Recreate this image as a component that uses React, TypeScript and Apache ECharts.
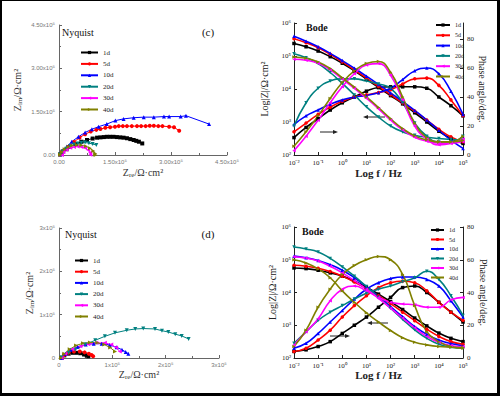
import React, { useEffect, useRef } from 'react';
import * as echarts from 'echarts';

const NAMES = ['1d', '5d', '10d', '20d', '30d', '40d'];
const COLORS = ['#000000', '#ff0000', '#0000ff', '#008080', '#ff00ff', '#808000'];
const SYMBOLS = ['rect', 'circle', 'triangle', 'triangle', 'triangle', 'triangle'];
const SYMBOL_ROTATE = [0, 0, 0, 180, 90, -90];

// Nyquist (c): [Zre, -Zim] in 1e5 Ω·cm²
const NYQ_C_1D = [[0.03, 0.02], [0.1, 0.12], [0.2, 0.2], [0.3, 0.29], [0.45, 0.38], [0.6, 0.46], [0.75, 0.52], [0.9, 0.57], [1.02, 0.6], [1.11, 0.61], [1.2, 0.62], [1.28, 0.63], [1.37, 0.63], [1.46, 0.63], [1.55, 0.62], [1.64, 0.61], [1.73, 0.6], [1.82, 0.58], [1.91, 0.55], [2.0, 0.52], [2.07, 0.49], [2.14, 0.46], [2.23, 0.4]];
const NYQ_C_5D = [[0.03, 0.02], [0.12, 0.15], [0.25, 0.28], [0.4, 0.45], [0.55, 0.6], [0.7, 0.72], [0.85, 0.81], [1.0, 0.87], [1.11, 0.9], [1.24, 0.94], [1.37, 0.96], [1.5, 0.98], [1.6, 1.0], [1.71, 1.0], [1.82, 1.0], [1.95, 1.0], [2.09, 1.0], [2.2, 1.0], [2.32, 1.0], [2.43, 1.01], [2.54, 1.01], [2.66, 1.0], [2.77, 1.0], [2.95, 0.98], [3.08, 0.96], [3.22, 0.84]];
const NYQ_C_10D = [[0.03, 0.03], [0.1, 0.14], [0.21, 0.29], [0.34, 0.46], [0.52, 0.63], [0.7, 0.78], [0.88, 0.89], [1.06, 0.98], [1.28, 1.07], [1.51, 1.19], [1.73, 1.25], [2.0, 1.29], [2.27, 1.31], [2.54, 1.31], [2.81, 1.33], [2.95, 1.33], [3.26, 1.33], [3.4, 1.36], [4.02, 1.07]];
const NYQ_C_20D = [[0.03, 0.02], [0.1, 0.12], [0.2, 0.22], [0.3, 0.3], [0.4, 0.36], [0.5, 0.4], [0.6, 0.42], [0.7, 0.43], [0.8, 0.41], [0.9, 0.38], [1.0, 0.35]];
const NYQ_C_30D = [[0.08, 0.0], [0.12, 0.1], [0.2, 0.18], [0.3, 0.25], [0.4, 0.28], [0.5, 0.29], [0.6, 0.28], [0.7, 0.24], [0.78, 0.17], [0.83, 0.08], [0.84, 0.01]];
const NYQ_C_40D = [[0.03, 0.01], [0.08, 0.1], [0.15, 0.2], [0.25, 0.28], [0.35, 0.33], [0.48, 0.35], [0.6, 0.34], [0.72, 0.3], [0.83, 0.23], [0.92, 0.14], [0.97, 0.05], [0.98, 0.0]];

// Nyquist (d): [Zre, -Zim] in 1e5 Ω·cm²
const NYQ_D_1D = [[0.05, 0.0], [0.1, 0.06], [0.18, 0.1], [0.26, 0.12], [0.33, 0.12], [0.4, 0.11], [0.47, 0.08], [0.52, 0.06], [0.55, 0.04]];
const NYQ_D_5D = [[0.05, 0.0], [0.1, 0.07], [0.18, 0.12], [0.28, 0.15], [0.39, 0.15], [0.48, 0.13], [0.56, 0.1], [0.61, 0.07], [0.64, 0.04]];
const NYQ_D_10D = [[0.05, 0.0], [0.12, 0.1], [0.22, 0.19], [0.35, 0.26], [0.5, 0.31], [0.65, 0.33], [0.8, 0.33], [0.95, 0.3], [1.08, 0.25], [1.18, 0.19], [1.25, 0.14], [1.3, 0.1]];
const NYQ_D_20D = [[0.05, 0.02], [0.18, 0.12], [0.3, 0.19], [0.49, 0.31], [0.68, 0.41], [0.86, 0.5], [1.05, 0.58], [1.27, 0.64], [1.43, 0.67], [1.58, 0.68], [1.8, 0.67], [1.93, 0.63], [2.05, 0.6], [2.18, 0.55], [2.3, 0.51], [2.43, 0.44]];
const NYQ_D_30D = [[0.05, 0.0], [0.12, 0.1], [0.25, 0.2], [0.4, 0.27], [0.55, 0.32], [0.7, 0.35], [0.86, 0.35], [0.98, 0.31], [1.07, 0.24], [1.14, 0.15]];
const NYQ_D_40D = [[0.04, 0.0], [0.1, 0.1], [0.2, 0.2], [0.32, 0.29], [0.45, 0.34], [0.58, 0.36], [0.72, 0.35], [0.85, 0.31], [0.96, 0.24], [1.05, 0.15]];

// Bode frequencies (log10 f / Hz)
const LOG_F = [-2, -1.5, -1, -0.5, 0, 0.5, 1, 1.5, 2, 2.5, 3, 3.5, 4, 4.5, 5];

// Bode (top): log10 |Z|
const BODE_C_Z_1D = [5.38, 5.28, 5.15, 4.98, 4.78, 4.55, 4.3, 4.05, 3.8, 3.55, 3.28, 3.0, 2.72, 2.5, 2.35];
const BODE_C_Z_5D = [5.52, 5.4, 5.25, 5.05, 4.82, 4.58, 4.33, 4.08, 3.83, 3.58, 3.33, 3.06, 2.78, 2.55, 2.4];
const BODE_C_Z_10D = [5.6, 5.45, 5.28, 5.08, 4.86, 4.63, 4.39, 4.14, 3.88, 3.62, 3.35, 3.06, 2.75, 2.45, 2.2];
const BODE_C_Z_20D = [5.07, 4.95, 4.77, 4.5, 4.17, 3.82, 3.46, 3.15, 2.88, 2.7, 2.6, 2.54, 2.5, 2.47, 2.45];
const BODE_C_Z_30D = [4.9, 4.87, 4.78, 4.58, 4.3, 4.02, 3.72, 3.4, 3.06, 2.76, 2.54, 2.42, 2.36, 2.36, 2.4];
const BODE_C_Z_40D = [4.97, 4.93, 4.82, 4.62, 4.34, 4.06, 3.76, 3.44, 3.1, 2.8, 2.58, 2.46, 2.4, 2.4, 2.44];
// Bode (top): phase angle / deg
const BODE_C_P_1D = [12, 19, 25, 31, 36, 40, 44, 46.5, 47, 47, 47, 46, 40, 34, 27];
const BODE_C_P_5D = [16, 22, 28, 33, 37, 40, 41.5, 43, 45, 49, 52.5, 53, 48, 38, 27];
const BODE_C_P_10D = [21, 27, 31, 35, 38, 40, 41, 43, 46, 52, 58, 60, 56, 44, 28];
const BODE_C_P_20D = [20, 36, 46, 51, 52.5, 52.5, 51, 49, 46, 36, 22, 13, 9, 9, 13];
const BODE_C_P_30D = [3, 13, 24, 36, 47, 56, 62, 63, 55, 38, 20, 11, 7, 8, 11];
const BODE_C_P_40D = [6, 16, 27, 39, 50, 58, 63, 64.5, 57, 40, 22, 12, 9, 9, 13];

// Bode (bottom): log10 |Z|
const BODE_D_Z_1D = [4.75, 4.73, 4.68, 4.6, 4.5, 4.35, 4.16, 3.95, 3.72, 3.48, 3.22, 2.98, 2.76, 2.6, 2.5];
const BODE_D_Z_5D = [4.83, 4.8, 4.74, 4.64, 4.5, 4.32, 4.12, 3.9, 3.66, 3.4, 3.14, 2.88, 2.66, 2.5, 2.42];
const BODE_D_Z_10D = [5.11, 5.06, 4.98, 4.85, 4.68, 4.45, 4.18, 3.88, 3.57, 3.26, 2.96, 2.72, 2.55, 2.44, 2.37];
const BODE_D_Z_20D = [5.39, 5.33, 5.24, 5.04, 4.78, 4.5, 4.18, 3.85, 3.52, 3.18, 2.86, 2.6, 2.42, 2.33, 2.3];
const BODE_D_Z_30D = [5.09, 5.05, 4.96, 4.8, 4.6, 4.36, 4.1, 3.82, 3.52, 3.22, 2.92, 2.66, 2.48, 2.38, 2.34];
const BODE_D_Z_40D = [5.0, 4.9, 4.72, 4.45, 4.05, 3.7, 3.38, 3.1, 2.84, 2.62, 2.48, 2.4, 2.35, 2.33, 2.32];
// Bode (bottom): phase angle / deg
const BODE_D_P_1D = [4, 5, 7, 10, 15, 20, 25, 31, 37, 43, 44, 40, 34, 28, 22];
const BODE_D_P_5D = [4, 6, 11, 17, 25, 32, 38, 43, 46, 47, 46, 41, 34, 28, 23];
const BODE_D_P_10D = [6, 9, 15, 22, 29, 36, 42, 46, 48.5, 49.5, 49.5, 48, 44, 35, 25];
const BODE_D_P_20D = [9, 16, 23, 28, 32, 36, 39.5, 42, 44, 46.5, 49, 53, 48, 38, 26];
const BODE_D_P_30D = [8, 16, 24, 35, 42, 44, 41, 37, 34, 33, 32.5, 31, 31, 35.5, 37];
const BODE_D_P_40D = [7, 17, 31, 42, 51, 56.5, 60, 62, 60, 51, 32, 16, 10, 7, 6];

const NYQ_C = [NYQ_C_1D, NYQ_C_5D, NYQ_C_10D, NYQ_C_20D, NYQ_C_30D, NYQ_C_40D];
const NYQ_D = [NYQ_D_1D, NYQ_D_5D, NYQ_D_10D, NYQ_D_20D, NYQ_D_30D, NYQ_D_40D];
const BODE_C_Z = [BODE_C_Z_1D, BODE_C_Z_5D, BODE_C_Z_10D, BODE_C_Z_20D, BODE_C_Z_30D, BODE_C_Z_40D];
const BODE_C_P = [BODE_C_P_1D, BODE_C_P_5D, BODE_C_P_10D, BODE_C_P_20D, BODE_C_P_30D, BODE_C_P_40D];
const BODE_D_Z = [BODE_D_Z_1D, BODE_D_Z_5D, BODE_D_Z_10D, BODE_D_Z_20D, BODE_D_Z_30D, BODE_D_Z_40D];
const BODE_D_P = [BODE_D_P_1D, BODE_D_P_5D, BODE_D_P_10D, BODE_D_P_20D, BODE_D_P_30D, BODE_D_P_40D];

const SERIF = '"Liberation Serif", "Times New Roman", serif';
const SANS = '"Liberation Sans", Arial, sans-serif';

const SUP: Record<string, string> = { '-': '⁻', '0': '⁰', '1': '¹', '2': '²', '3': '³', '4': '⁴', '5': '⁵', '6': '⁶', '7': '⁷', '8': '⁸', '9': '⁹' };
const pow10Label = (v: number) =>
  '10' + String(Math.round(Math.log10(v))).split('').map((c) => SUP[c] || c).join('');

function buildOption() {
  const series: any[] = [];
  const styleFor = (k: number, size: number, lw: number) => ({
    name: NAMES[k],
    type: 'line',
    symbol: SYMBOLS[k],
    symbolRotate: SYMBOL_ROTATE[k],
    symbolSize: size,
    itemStyle: { color: COLORS[k] },
    lineStyle: { color: COLORS[k], width: lw },
    silent: true,
  });
  for (let k = 0; k < 6; k++) {
    series.push({ ...styleFor(k, 4, 1), xAxisIndex: 0, yAxisIndex: 0, data: NYQ_C[k] });
    series.push({ ...styleFor(k, 4, 1), xAxisIndex: 2, yAxisIndex: 3, data: NYQ_D[k] });
    series.push({
      ...styleFor(k, 3.5, 1.6), smooth: true, xAxisIndex: 1, yAxisIndex: 1,
      data: LOG_F.map((lf, i) => [Math.pow(10, lf), Math.pow(10, BODE_C_Z[k][i])]),
    });
    series.push({
      ...styleFor(k, 3.5, 1.6), smooth: true, xAxisIndex: 1, yAxisIndex: 2,
      data: LOG_F.map((lf, i) => [Math.pow(10, lf), BODE_C_P[k][i]]),
    });
    series.push({
      ...styleFor(k, 3.5, 1.6), smooth: true, xAxisIndex: 3, yAxisIndex: 4,
      data: LOG_F.map((lf, i) => [Math.pow(10, lf), Math.pow(10, BODE_D_Z[k][i])]),
    });
    series.push({
      ...styleFor(k, 3.5, 1.6), smooth: true, xAxisIndex: 3, yAxisIndex: 5,
      data: LOG_F.map((lf, i) => [Math.pow(10, lf), BODE_D_P[k][i]]),
    });
  }

  const nyqAxisLine = { lineStyle: { color: '#666', width: 1 } };
  const nyqLabel = { color: '#777', fontFamily: SANS, fontSize: 6 };
  const bodeAxisLine = { lineStyle: { color: '#222', width: 1 } };
  const bodeLabel = { color: '#222', fontFamily: SERIF, fontSize: 7 };
  const subRich = {
    sub: { fontFamily: SERIF, fontSize: 7, color: '#333', padding: [5, 0, 0, 0] },
  };

  const nyqX = (max: number, interval: number, fmt: (v: number) => string, gap: number) => ({
    type: 'value', min: 0, max, interval,
    axisLine: nyqAxisLine,
    axisTick: { inside: true, length: 3, lineStyle: { color: '#666' } },
    minorTick: { show: true, splitNumber: 2, length: 2, lineStyle: { color: '#666' } },
    splitLine: { show: false },
    axisLabel: { ...nyqLabel, margin: 4, formatter: fmt },
    name: 'Z{sub|re}/Ω·cm²', nameLocation: 'middle', nameGap: gap,
    nameTextStyle: { fontFamily: SERIF, fontSize: 10, color: '#333', rich: subRich },
  });
  const nyqY = (max: number, interval: number, fmt: (v: number) => string, gap: number) => ({
    type: 'value', min: 0, max, interval,
    axisLine: nyqAxisLine,
    axisTick: { inside: true, length: 3, lineStyle: { color: '#666' } },
    minorTick: { show: true, splitNumber: 2, length: 2, lineStyle: { color: '#666' } },
    splitLine: { show: false },
    axisLabel: { ...nyqLabel, margin: 4, formatter: fmt },
    name: 'Z{sub|im}/Ω·cm²', nameLocation: 'middle', nameGap: gap,
    nameTextStyle: { fontFamily: SERIF, fontSize: 10, color: '#333', rich: subRich },
  });
  const bodeX = (gap: number) => ({
    type: 'log', logBase: 10, min: 0.01, max: 100000,
    axisLine: bodeAxisLine,
    axisTick: { inside: true, length: 3 },
    splitLine: { show: false },
    axisLabel: { ...bodeLabel, margin: 4, formatter: pow10Label },
    name: 'Log f / Hz', nameLocation: 'middle', nameGap: gap,
    nameTextStyle: { fontFamily: SERIF, fontSize: 11, fontWeight: 'bold', color: '#222' },
  });
  const bodeYL = (gap: number) => ({
    type: 'log', logBase: 10, min: 100, max: 1000000, position: 'left',
    axisLine: bodeAxisLine,
    axisTick: { inside: true, length: 3 },
    splitLine: { show: false },
    axisLabel: { ...bodeLabel, margin: 3, formatter: pow10Label },
    name: 'Log|Z|/Ω·cm²', nameLocation: 'middle', nameGap: gap,
    nameTextStyle: { fontFamily: SERIF, fontSize: 10, color: '#222' },
  });
  const bodeYR = (max: number, gap: number) => ({
    type: 'value', min: 0, max, interval: 20, position: 'right',
    axisLine: { show: true, ...bodeAxisLine },
    axisTick: { show: true, inside: true, length: 3 },
    splitLine: { show: false },
    axisLabel: { ...bodeLabel, margin: 4, showMaxLabel: max === 80 },
    name: 'Phase angle/deg.', nameLocation: 'middle', nameGap: gap, nameRotate: -90,
    nameTextStyle: { fontFamily: SERIF, fontSize: 10, color: '#222' },
  });

  const legend = (left: number, top: number, gap: number, w: number, fs: number) => ({
    data: NAMES, orient: 'vertical', left, top, padding: 0,
    itemWidth: w, itemHeight: 4, itemGap: gap, selectedMode: false,
    textStyle: { fontFamily: SERIF, fontSize: fs, color: '#222' },
  });

  const text = (x: number, y: number, t: string, size: number, align = 'left', weight = 'normal') => ({
    type: 'text', x, y, silent: true,
    style: { text: t, fontFamily: SERIF, fontSize: size, fontWeight: weight, fill: '#111', textAlign: align, textVerticalAlign: 'middle' },
  });
  const arrow = (x1: number, x2: number, y: number) => {
    const dir = x2 > x1 ? 1 : -1;
    return [
      { type: 'line', silent: true, shape: { x1, y1: y, x2: x2 - dir * 3, y2: y }, style: { stroke: '#222', lineWidth: 1 } },
      { type: 'polygon', silent: true, shape: { points: [[x2, y], [x2 - dir * 5, y - 2], [x2 - dir * 5, y + 2]] }, style: { fill: '#222' } },
    ];
  };

  return {
    animation: false,
    backgroundColor: '#ffffff',
    grid: [
      { left: 59, top: 25, width: 168, height: 130 },
      { left: 294, top: 23, width: 169, height: 132 },
      { left: 59, top: 228, width: 160, height: 130 },
      { left: 294, top: 227, width: 169, height: 131 },
    ],
    xAxis: [
      { gridIndex: 0, ...nyqX(4.5, 1.5, (v: number) => (v === 0 ? '0.00' : v.toFixed(2) + 'x10⁵'), 11) },
      { gridIndex: 1, ...bodeX(12) },
      { gridIndex: 2, ...nyqX(3, 1, (v: number) => (v === 0 ? '0' : v + 'x10⁵'), 10) },
      { gridIndex: 3, ...bodeX(10) },
    ],
    yAxis: [
      { gridIndex: 0, ...nyqY(4.5, 1.5, (v: number) => (v === 0 ? '0.00' : v.toFixed(2) + 'x10⁵'), 36) },
      { gridIndex: 1, ...bodeYL(25) },
      { gridIndex: 1, ...bodeYR(91, 14) },
      { gridIndex: 2, ...nyqY(3, 1, (v: number) => (v === 0 ? '0' : v + 'x10⁵'), 24) },
      { gridIndex: 3, ...bodeYL(12) },
      { gridIndex: 3, ...bodeYR(80, 15) },
    ],
    legend: [
      legend(80, 49, 4.4, 17, 7),
      legend(74, 257, 4.2, 13, 7),
      legend(435, 22, 4.3, 14, 6),
      legend(430, 227, 3.5, 13, 6),
    ],
    series,
    graphic: [
      text(62, 32, 'Nyquist', 10),
      text(208, 32, '(c)', 11, 'center'),
      text(65, 234, 'Nyquist', 10),
      text(208, 234, '(d)', 11, 'center'),
      text(306, 27, 'Bode', 10, 'left', 'bold'),
      text(302, 231, 'Bode', 10, 'left', 'bold'),
      ...arrow(385, 363, 117),
      ...arrow(320, 338, 132),
      ...arrow(388, 367, 323),
      ...arrow(330, 350, 336),
      { type: 'rect', silent: true, shape: { x: 0, y: 0, width: 500, height: 1 }, style: { fill: '#000' } },
      { type: 'rect', silent: true, shape: { x: 0, y: 0, width: 2, height: 396 }, style: { fill: '#000' } },
      { type: 'rect', silent: true, shape: { x: 497, y: 0, width: 3, height: 396 }, style: { fill: '#000' } },
      { type: 'rect', silent: true, shape: { x: 0, y: 393, width: 500, height: 3 }, style: { fill: '#000' } },
    ],
  };
}

export default function App() {
  const ref = useRef<HTMLDivElement>(null);
  useEffect(() => {
    if (!ref.current) return;
    const chart = echarts.init(ref.current, undefined, { renderer: 'svg' });
    chart.setOption(buildOption() as any);
    return () => chart.dispose();
  }, []);
  return <div ref={ref} style={{ position: 'absolute', left: 0, top: 0, width: 500, height: 396 }} />;
}
